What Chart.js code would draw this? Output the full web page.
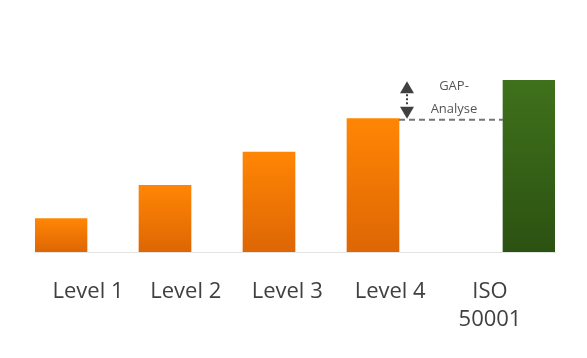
<!DOCTYPE html>
<html>
<head>
<meta charset="utf-8">
<script src="https://cdn.jsdelivr.net/npm/chart.js@4/dist/chart.umd.min.js"></script>
<style>
  html, body { margin: 0; padding: 0; background: #ffffff; }
  #wrap { width: 587px; height: 358px; }
</style>
</head>
<body>
<div id="wrap"><canvas id="c" width="587" height="358"></canvas></div>
<script>
// ---- data ----
const categories = ['Level 1', 'Level 2', 'Level 3', 'Level 4', ['ISO', '50001']];
const values = [1, 2, 3, 4, 5.15];
// slot of each bar on a 10-slot horizontal grid (Level 4 and ISO are separated by a gap)
const barSlots = [0, 2, 4, 6, 9];
const labelSlots = [0.52, 2.4, 4.35, 6.33, 8.25];
const gapText = ['GAP-', 'Analyse'];

const orange = ['#ff8604', '#de6604'];
const green = ['#3f711b', '#2c5212'];

function barFill(ctx) {
  const chart = ctx.chart;
  if (!chart.chartArea || !ctx.raw) return ctx.dataIndex === 4 ? green[0] : orange[0];
  const y = chart.scales.y;
  const top = y.getPixelForValue(ctx.raw.y);
  const bottom = y.getPixelForValue(0);
  const c = ctx.dataIndex === 4 ? green : orange;
  const g = chart.ctx.createLinearGradient(0, top, 0, bottom);
  g.addColorStop(0, c[0]);
  g.addColorStop(1, c[1]);
  return g;
}

const gapPlugin = {
  id: 'gap',
  afterDatasetsDraw(chart) {
    const meta = chart.getDatasetMeta(0);
    const b4 = meta.data[3], bIso = meta.data[4];
    if (!b4 || !bIso) return;
    const y = chart.scales.y;
    const y4 = y.getPixelForValue(values[3]);
    const yIso = y.getPixelForValue(values[4]);
    const x0 = b4.x + b4.width / 2;
    const x1 = bIso.x - bIso.width / 2;
    const ctx = chart.ctx;
    ctx.save();
    // dashed line
    ctx.strokeStyle = '#767676';
    ctx.lineWidth = 2;
    ctx.setLineDash([6, 4]);
    ctx.beginPath();
    ctx.moveTo(x0, y4 + 1);
    ctx.lineTo(x1, y4 + 1);
    ctx.stroke();
    // double arrow
    const ax = x0 + 8;
    ctx.fillStyle = '#404040';
    ctx.strokeStyle = '#404040';
    ctx.setLineDash([2, 2]);
    ctx.lineWidth = 2;
    ctx.beginPath();
    ctx.moveTo(ax, yIso + 14);
    ctx.lineTo(ax, y4 - 13);
    ctx.stroke();
    ctx.setLineDash([]);
    ctx.beginPath();
    ctx.moveTo(ax, yIso + 1);
    ctx.lineTo(ax - 7, yIso + 13);
    ctx.lineTo(ax + 7, yIso + 13);
    ctx.closePath();
    ctx.fill();
    ctx.beginPath();
    ctx.moveTo(ax, y4);
    ctx.lineTo(ax - 7, y4 - 12);
    ctx.lineTo(ax + 7, y4 - 12);
    ctx.closePath();
    ctx.fill();
    // text
    ctx.fillStyle = '#555555';
    ctx.font = '13px "Open Sans"';
    ctx.textAlign = 'center';
    ctx.textBaseline = 'middle';
    const tx = (x0 + x1) / 2 + 3;
    ctx.fillText(gapText[0], tx, yIso + 6);
    ctx.fillText(gapText[1], tx, y4 - 9);
    ctx.restore();
  }
};

new Chart(document.getElementById('c'), {
  type: 'bar',
  data: {
    datasets: [{
      data: values.map((v, i) => ({ x: barSlots[i], y: v })),
      backgroundColor: barFill,
      borderWidth: 0,
      barThickness: 52,
      xAxisID: 'x',
      yAxisID: 'y'
    }]
  },
  options: {
    responsive: false,
    animation: false,
    events: [],
    layout: { padding: { top: 52, left: 35, right: 32, bottom: 0 } },
    plugins: { legend: { display: false }, tooltip: { enabled: false } },
    scales: {
      x: {
        type: 'linear', min: -0.5, max: 9.5, display: false, offset: false,
        grid: { offset: false }
      },
      x2: {
        type: 'linear', min: -0.5, max: 9.5, position: 'bottom', offset: false,
        afterBuildTicks(scale) { scale.ticks = labelSlots.map(v => ({ value: v })); },
        afterFit(scale) { scale.height = 106; scale.paddingLeft = 0; scale.paddingRight = 0; },
        grid: { display: false, offset: false },
        border: { display: true, color: '#e4e4e4', width: 1 },
        ticks: {
          autoSkip: false, maxRotation: 0, padding: 17,
          color: '#404040',
          font: { family: 'Open Sans', size: 22, lineHeight: 1.3 },
          callback: (v, i) => categories[i]
        }
      },
      y: { min: 0, max: 6, display: false }
    }
  },
  plugins: [gapPlugin]
});
</script>
</body>
</html>
